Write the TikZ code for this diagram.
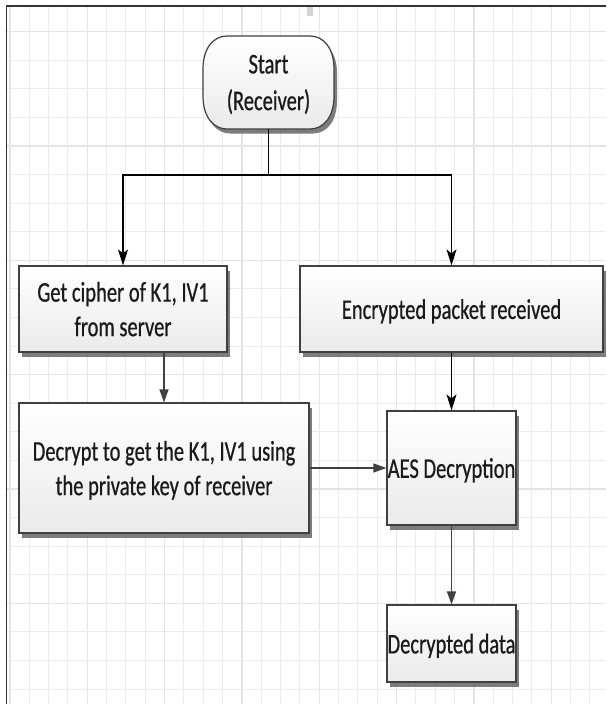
\documentclass[tikz,border=0pt]{standalone}
\usepackage{fontspec}
\setmainfont{Carlito}[FakeStretch=0.72, FakeBold=0.6]
\usetikzlibrary{arrows.meta,shadows,calc}

\definecolor{frameline}{HTML}{333333}
\definecolor{gridminor}{HTML}{EBEBEB}
\definecolor{gridmajor}{HTML}{E4E4E4}
\definecolor{boxline}{HTML}{404040}
\definecolor{boxfill}{HTML}{EAEAEA}
\definecolor{shadowgray}{HTML}{6E6E6E}
\definecolor{flowgray}{HTML}{404040}
\definecolor{tabgray}{HTML}{D4D4D4}
\definecolor{inkgray}{HTML}{1A1A1A}

% drop the depth of a line so that it is centred on its letters
\newcommand{\nodepth}[1]{\raisebox{0pt}[\height][0pt]{#1}}

\begin{document}
\begin{tikzpicture}[x=1pt,y=-1pt,
  boxshade/.style={draw=boxline, line width=1.2pt, top color=white, bottom color=boxfill,
    drop shadow={shadow xshift=3pt, shadow yshift=-4.5pt, fill=shadowgray, opacity=0.9}},
  stepbox/.style={boxshade, rectangle, inner sep=0pt, align=center, text=inkgray},
  label/.style={font=\fontsize{28.5}{34.5}\selectfont},
  mainflow/.style={draw=black, line width=1.3pt, -{Stealth[length=16pt, width=10pt, inset=4pt]}},
  subflow/.style={draw=flowgray, line width=1.3pt, -{Triangle[length=13pt, width=9pt]}},
  gridline/.style={draw=gridminor, line width=1pt},
  gridbold/.style={draw=gridmajor, line width=1.4pt}]

\useasboundingbox (0,0) rectangle (606,704);
\fill[white] (0,0) rectangle (606,704);

% drawing-page grid
\foreach \k in {0,...,31}{
  \pgfmathsetmacro{\gx}{10+19.333*\k}
  \pgfmathtruncatemacro{\gm}{mod(\k,4)}
  \ifnum\gm=0
    \draw[gridbold] (\gx,6) -- (\gx,704);
  \else
    \draw[gridline] (\gx,6) -- (\gx,704);
  \fi
}
\foreach \j in {0,...,24}{
  \pgfmathsetmacro{\gy}{31.7+28.58*\j}
  \pgfmathtruncatemacro{\gm}{mod(\j,4)}
  \ifnum\gm=0
    \draw[gridbold] (6,\gy) -- (606,\gy);
  \else
    \draw[gridline] (6,\gy) -- (606,\gy);
  \fi
}

% page frame and ruler tab
\draw[frameline, line width=1.6pt] (6.5,704) -- (6.5,6) -- (606,6);
\fill[tabgray] (306.7,6.8) rectangle (313.3,16);

% start terminator (elliptic corners)
\path[boxshade]
  (227,36) -- (310,36)
  .. controls (323.3,36) and (334,47.7) .. (334,69)
  -- (334,96)
  .. controls (334,117.3) and (323.3,129) .. (310,129)
  -- (227,129)
  .. controls (213.7,129) and (203,117.3) .. (203,96)
  -- (203,69)
  .. controls (203,47.7) and (213.7,36) .. (227,36) -- cycle;
\node[rectangle, minimum width=131pt, minimum height=93pt, inner sep=0pt, align=center,
      text=inkgray, font=\fontsize{28.5}{36.7}\selectfont] (start) at (268.5,82.5)
  {Start\\\nodepth{(Receiver)}};

% process steps
\node[stepbox, label, minimum width=208pt, minimum height=86pt] (cipher) at (123,309)
  {Get cipher of K1, IV1\\\nodepth{from server}};
\node[stepbox, label, minimum width=303pt, minimum height=86pt] (packet) at (451.5,309)
  {\nodepth{Encrypted packet received}};
\node[stepbox, label, minimum width=290pt, minimum height=130pt] (decrypt) at (164,468)
  {Decrypt to get the K1, IV1 using\\\nodepth{the private key of receiver}};
\node[stepbox, label, minimum width=129pt, minimum height=114pt] (aes) at (451.5,468)
  {\nodepth{AES Decryption}};
\node[stepbox, label, minimum width=129pt, minimum height=77pt] (data) at (451.5,643.5)
  {\nodepth{Decrypted data}};

% connectors
\coordinate (split) at (268.5,175);
\draw[line width=1.3pt] (start.south) -- (split);
\draw[mainflow] (split) -| (cipher.north);
\draw[mainflow] (split) -| (aes.north |- packet.north);
\draw[subflow] (decrypt.north |- cipher.south) -- (decrypt.north);
\draw[mainflow] (packet.south -| aes.north) -- (aes.north);
\draw[subflow] (decrypt.east) -- (aes.west);
\draw[subflow] (aes.south) -- (data.north);

\end{tikzpicture}
\end{document}
